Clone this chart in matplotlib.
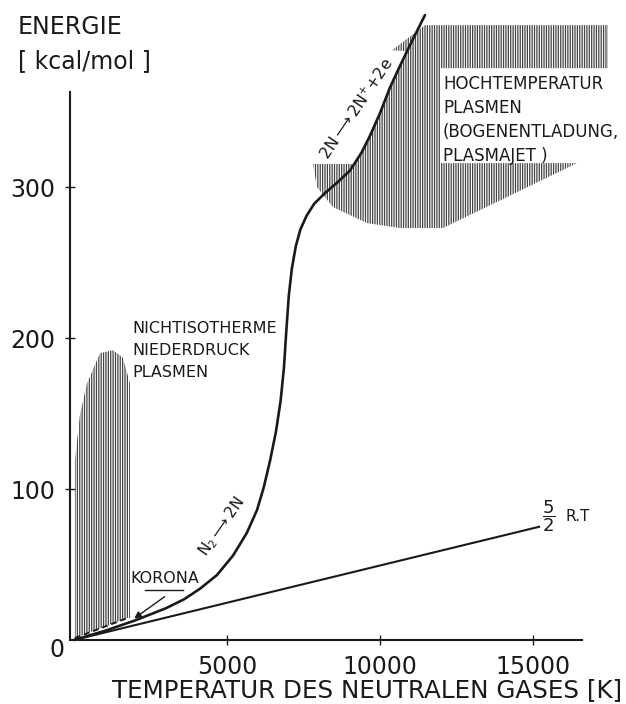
import numpy as np
import matplotlib.pyplot as plt

plt.rcParams['font.family'] = ['DejaVu Sans']
plt.rcParams['mathtext.fontset'] = 'dejavusans'
plt.rcParams['hatch.linewidth'] = 0.9

## dissociation / ionisation curve of nitrogen
temp_k = [0, 1000, 2000, 3000, 3600, 4120, 4670, 5200, 5650, 5980, 6200, 6410,
          6600, 6750, 6860, 6940, 7020, 7120, 7250, 7400, 7600, 7850, 8200,
          8600, 9020, 9400, 9673, 10000, 10327, 10600, 10882, 11200, 11471]
energy = [0, 6, 13, 21, 27, 34, 43, 56, 71, 86, 101, 119,
          138, 158, 180, 205, 228, 246, 261, 272, 281, 289, 296,
          303, 311, 323, 334, 349, 366, 378, 390, 403, 414]

## 5/2 R T line
rt_temp = [0, 15200]
rt_energy = [0, 75]

## corona (dashed)
korona_temp = [30, 1830]
korona_energy = [1.3, 15.2]

## non-isothermal low pressure plasma region (dome)
dome_temp = [30, 30, 200, 425, 850, 1270, 1600, 1830, 1830]
dome_energy = [1.3, 119, 150, 170, 190, 192, 187, 170, 15.2]

## high temperature plasma region
hot_temp = [7811, 9160, 9400, 9673, 10000, 10327, 10600, 10882, 10390, 11471,
            17451, 17451, 11961, 11961, 16438, 12059, 10654, 9575, 8464, 7941]
hot_energy = [315.3, 315.3, 323, 334, 349, 366, 378, 390, 390.7, 407.3,
              407.3, 378.8, 378.8, 315.9, 315.9, 272.9, 272.9, 276.2, 286.8, 300.0]

xticks = [5000, 10000, 15000]
yticks = [100, 200, 300]

fig = plt.figure(figsize=(6.26, 7.04), dpi=100)
ax = fig.add_axes([70/626, 64/704, 545.6/626, 634/704])
ax.set_xlim(-130, 17700)
ax.set_ylim(0, 420)

# hatched regions
ax.fill(dome_temp, dome_energy, facecolor='white', edgecolor='#444444',
        hatch='|||||||', linewidth=0, zorder=1)
ax.fill(hot_temp, hot_energy, facecolor='white', edgecolor='#444444',
        hatch='|||||||', linewidth=0, zorder=1)

ax.plot(temp_k, energy, color='#1a1a1a', lw=1.9, zorder=3, clip_on=False,
        solid_capstyle='round', solid_joinstyle='round')
ax.plot(rt_temp, rt_energy, color='#1a1a1a', lw=1.5, zorder=3)
ax.plot(korona_temp, korona_energy, color='#1a1a1a', lw=1.4, ls=(0, (3, 2)), zorder=3)

# spines
for s in ['top', 'right']:
    ax.spines[s].set_visible(False)
ax.spines['left'].set_bounds(0, 363)
ax.spines['bottom'].set_bounds(-130, 16600)
for s in ['left', 'bottom']:
    ax.spines[s].set_linewidth(1.5)
    ax.spines[s].set_color('#1a1a1a')

ax.set_xticks(xticks)
ax.set_yticks(yticks)
ax.tick_params(direction='inout', length=7, width=1.0, color='#1a1a1a',
               labelsize=17, pad=7, labelcolor='#1a1a1a')
ax.annotate('0', xy=(0, 0), xycoords='axes fraction', xytext=(-13, -10),
            textcoords='offset pixels', ha='center', va='center', fontsize=17,
            color='#1a1a1a')

fig.text(18/626, 1 - 27/704, 'ENERGIE', fontsize=17, va='center', color='#1a1a1a')
fig.text(18/626, 1 - 61/704, '[ kcal/mol ]', fontsize=17, va='center', color='#1a1a1a')
fig.text(367/626, 1 - 690/704, 'TEMPERATUR DES NEUTRALEN GASES [K]', fontsize=17.7,
         ha='center', va='center', color='#1a1a1a')

# region labels
ax.text(1900, 211, 'NICHTISOTHERME\nNIEDERDRUCK\nPLASMEN', fontsize=11.5,
        va='top', ha='left', linespacing=1.55, color='#1a1a1a')
ax.text(12060, 374, 'HOCHTEMPERATUR\nPLASMEN\n(BOGENENTLADUNG,\nPLASMAJET )',
        fontsize=12, va='top', ha='left', linespacing=1.42, color='#1a1a1a')

# korona label with arrow
ax.text(1830, 41, 'KORONA', fontsize=11.5, va='center', ha='left', color='#1a1a1a')
ax.plot([2320, 3562], [33.1, 33.1], color='#1a1a1a', lw=1.0)
ax.annotate('', xy=(1895, 13.2), xytext=(3039, 29.8),
            arrowprops=dict(arrowstyle='-|>', color='#1a1a1a', lw=1.0,
                            mutation_scale=10))

# reaction labels along the curve
ax.text(4837, 74.8, r'N$_2$$\longrightarrow$2N', fontsize=11, rotation=55,
        rotation_mode='anchor', ha='center', va='center', color='#1a1a1a')
ax.text(9250, 352, r'2N$\longrightarrow$2N$^{+}$+2e', fontsize=11.5, rotation=56,
        rotation_mode='anchor', ha='center', va='center', color='#1a1a1a')

# 5/2 R.T label
ax.text(15523, 82, r'$\dfrac{5}{2}$', fontsize=13, ha='center', va='center',
        color='#1a1a1a')
ax.text(16050, 82, 'R.T', fontsize=11, ha='left', va='center', color='#1a1a1a')

plt.savefig('out.png', dpi=100, facecolor='white')
